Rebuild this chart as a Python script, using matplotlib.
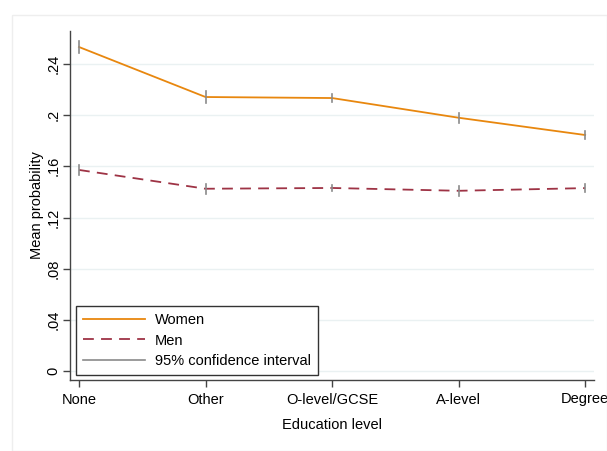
import matplotlib
matplotlib.use("Agg")
import matplotlib.pyplot as plt
from matplotlib.patches import Rectangle
from matplotlib.lines import Line2D

categories = ["None", "Other", "O-level/GCSE", "A-level", "Degree"]
women = [0.2533, 0.2142, 0.2134, 0.1980, 0.1845]
women_ci = [0.0047, 0.0045, 0.0030, 0.0040, 0.0032]
men = [0.1572, 0.1425, 0.1431, 0.1409, 0.1430]
men_ci = [0.0040, 0.0040, 0.0025, 0.0040, 0.0032]
yticks = [0, 0.04, 0.08, 0.12, 0.16, 0.2, 0.24]
ytick_labels = ["0", ".04", ".08", ".12", ".16", ".2", ".24"]

orange = "#E8870E"
maroon = "#9E3345"
gray = "#8A8A8A"

plt.rcParams['font.family'] = ['Liberation Sans', 'DejaVu Sans']
fig = plt.figure(figsize=(6.07, 4.51), dpi=100)
W, H = 607, 451
# outer frame
fig.patches.append(Rectangle((12 / W, 0.0), (W - 12) / W, (H - 15) / H, transform=fig.transFigure,
                             fill=False, edgecolor="#EEEEEE", lw=1))

ax = fig.add_axes([70 / W, 1 - 380 / H, (594 - 70) / W, (380 - 31) / H])
x = list(range(len(categories)))
ax.plot(x, women, color=orange, lw=1.3, zorder=3)
ax.plot(x, men, color=maroon, lw=1.3, ls=(0, (6, 4)), zorder=3)
for xi, m, c in zip(x, women, women_ci):
    ax.plot([xi, xi], [m - c, m + c], color=gray, lw=1.2, zorder=4)
for xi, m, c in zip(x, men, men_ci):
    ax.plot([xi, xi], [m - c, m + c], color=gray, lw=1.2, zorder=4)

ax.set_xlim(-0.071, 4.07)
ax.set_ylim(-0.007, 0.2658)
ax.set_yticks(yticks)
ax.set_yticklabels(ytick_labels, rotation=90, va="center", fontsize=10.5)
ax.set_xticks(x)
ax.set_xticklabels(categories, fontsize=10.5)
ax.grid(axis="y", color="#EAF1F2", lw=1)
ax.set_axisbelow(True)
for s in ["top", "right"]:
    ax.spines[s].set_visible(False)
for s in ["left", "bottom"]:
    ax.spines[s].set_color("#444444")
    ax.spines[s].set_linewidth(1)
ax.tick_params(axis="both", color="#444444", length=5, width=1, pad=4)
ax.tick_params(axis="y", pad=2)
ax.set_ylabel("Mean probability", fontsize=10.5, labelpad=2)
ax.set_xlabel("Education level", fontsize=10.5, labelpad=8)

handles = [Line2D([], [], color=orange, lw=1.3),
           Line2D([], [], color=maroon, lw=1.3, ls=(0, (6, 4))),
           Line2D([], [], color=gray, lw=1.2)]
leg = ax.legend(handles, ["Women", "Men", "95% confidence interval"], loc="lower left",
                bbox_to_anchor=((76 - 70) / (594 - 70), (380 - 375) / (380 - 31)),
                borderaxespad=0, fancybox=False, framealpha=1, edgecolor="#333333",
                fontsize=10.5, handlelength=4.2, handletextpad=0.7,
                labelspacing=0.42, borderpad=0.5)
leg.get_frame().set_linewidth(1)

fig.savefig("out.png", dpi=100)
